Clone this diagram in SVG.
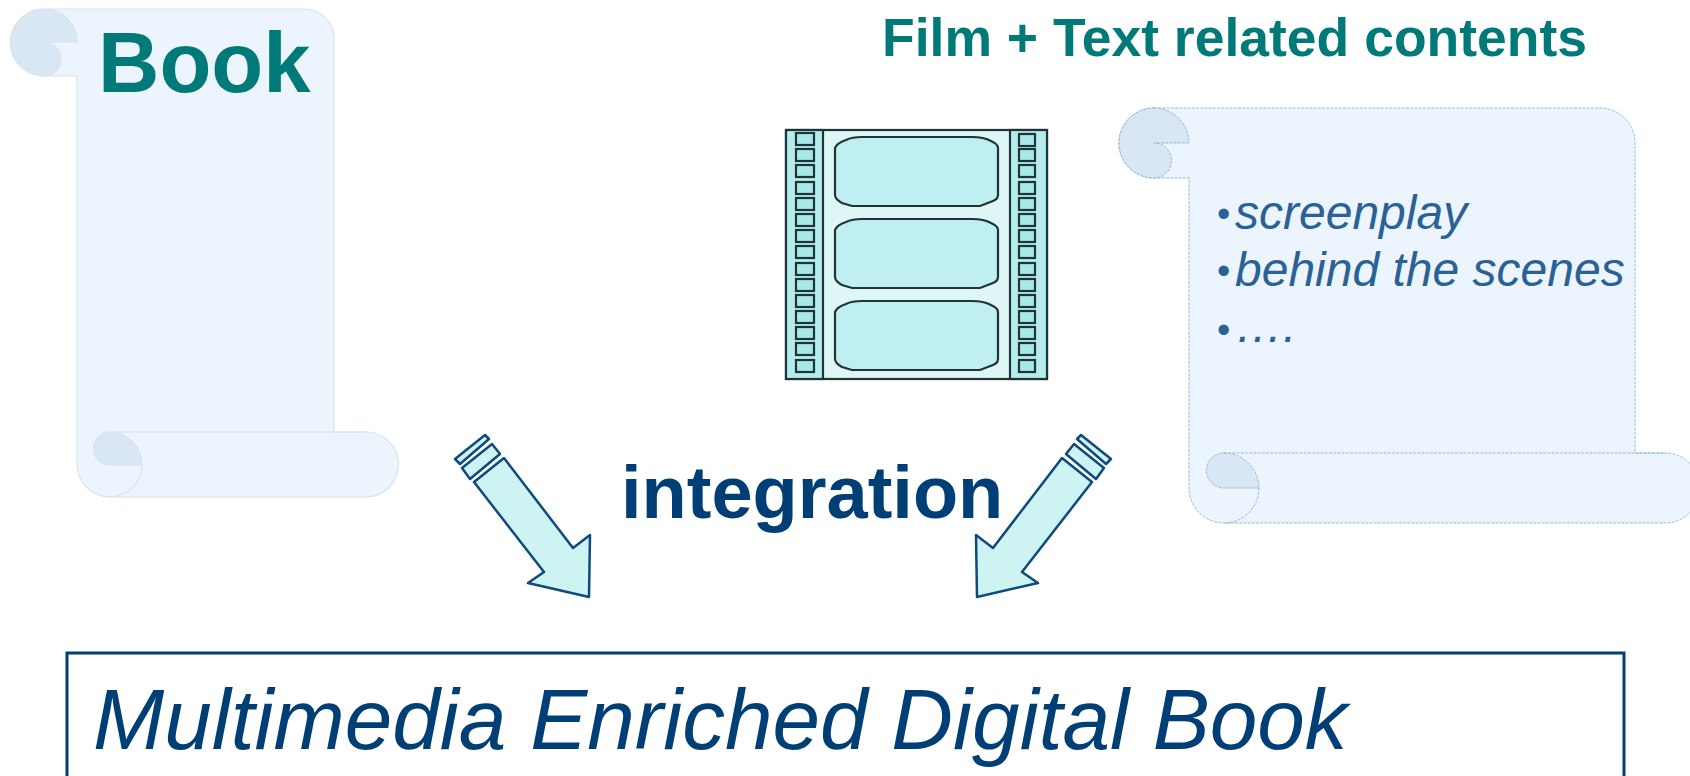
<svg xmlns="http://www.w3.org/2000/svg" width="1690" height="776" viewBox="0 0 1690 776">
<style>
text{font-family:"Liberation Sans",Arial,sans-serif}
.bold{font-weight:700}
.teal{fill:#007a78}
.navy{fill:#003f75}
.blue{fill:#2a6298}
.list{font-size:48px;font-style:italic}
.dot{font-size:38px;font-style:normal}
.page{fill:#ecf5fe}
.curl{fill:#d9e7f5}
.s1 path{stroke:#d9e3ed;stroke-width:1.2}
.s2 path{stroke:#8fb2d2;stroke-width:.9;stroke-dasharray:3 1.2}
.line{fill:none}
.film{stroke:#1f3436;stroke-width:2.200}
.strip{fill:#b6ecec}
.mid{fill:#dff6f6}
.frame{fill:#bfeff0}
.hole{fill:#a9e8e8}
.arr{fill:#cdf3f3;stroke:#0e4a7c;stroke-width:2.500;stroke-linejoin:round}
</style>
<defs>
<path id="frame-shape" d="M835,148Q837,143 846,140Q852,137 862,137H972Q984,137 991,141Q998,144 998,148V195Q998,199 993,201L980,206H852L842,203Q835,199 835,195Z"/>
<g id="arrow-shape">
<path d="M455,459L485,435L489,439L460,464Z"/>
<path d="M462,468L492,444L500,454L470,479Z"/>
<path d="M474,482L504,458L573,548L590,535L589,597L528,583L544,572Z"/>
</g>
</defs>
<rect width="1690" height="776" fill="#fff"/>
<g id="book-scroll" class="s1">
<path class="page" d="M44,9H304A30,30 0 0 1 334,39V432H366A32.500,32.500 0 0 1 366,497H110A33,33 0 0 1 77,465V76H44A33.500,33.500 0 0 1 44,9Z"/>
<path class="curl" d="M44,9A33,33 0 0 1 77,42H44A17,17 0 0 1 44,76A33.500,33.500 0 0 1 44,9Z"/>
<path class="curl" d="M110,432A32.500,33 0 0 1 142,465H110A16.500,16.500 0 0 1 110,432Z"/>
<path class="line" d="M142,465A32,32 0 0 1 110,497M110,432H366"/>
<text class="bold teal" x="98" y="92" font-size="85">Book</text>
</g>
<g id="title"><text class="bold teal" x="882" y="56" font-size="53.500">Film + Text related contents</text></g>
<g id="film">
<rect class="mid film" x="786" y="130" width="261" height="249"/>
<rect class="strip film" x="786" y="130" width="37" height="249"/>
<rect class="strip film" x="1010" y="130" width="37" height="249"/>
<use href="#frame-shape" class="frame film"/>
<use href="#frame-shape" class="frame film" y="82"/>
<use href="#frame-shape" class="frame film" y="164"/>
<g class="hole film">
<rect x="796" y="133" width="18" height="12"/><rect x="796" y="149" width="18" height="12"/><rect x="796" y="165" width="18" height="12"/><rect x="796" y="182" width="18" height="12"/><rect x="796" y="198" width="18" height="12"/><rect x="796" y="214" width="18" height="12"/><rect x="796" y="230" width="18" height="12"/><rect x="796" y="246" width="18" height="12"/><rect x="796" y="263" width="18" height="12"/><rect x="796" y="279" width="18" height="12"/><rect x="796" y="295" width="18" height="12"/><rect x="796" y="311" width="18" height="12"/><rect x="796" y="327" width="18" height="12"/><rect x="796" y="343" width="18" height="12"/><rect x="796" y="360" width="18" height="12"/>
<rect x="1019" y="134" width="16" height="12"/><rect x="1019" y="149" width="16" height="12"/><rect x="1019" y="165" width="16" height="12"/><rect x="1019" y="182" width="16" height="12"/><rect x="1019" y="198" width="16" height="12"/><rect x="1019" y="214" width="16" height="12"/><rect x="1019" y="230" width="16" height="12"/><rect x="1019" y="246" width="16" height="12"/><rect x="1019" y="263" width="16" height="12"/><rect x="1019" y="279" width="16" height="12"/><rect x="1019" y="295" width="16" height="12"/><rect x="1019" y="311" width="16" height="12"/><rect x="1019" y="327" width="16" height="12"/><rect x="1019" y="343" width="16" height="12"/><rect x="1019" y="360" width="16" height="12"/>
</g>
</g>
<g id="contents-scroll" class="s2">
<path class="page" d="M1154,108H1600A35,35 0 0 1 1635,143V453H1665A35,35 0 0 1 1665,523H1224A35,35 0 0 1 1189,488V178H1154A35,35 0 0 1 1154,108Z"/>
<path class="curl" d="M1154,108A35,35 0 0 1 1189,143H1154A17.500,17.500 0 0 1 1154,178A35,35 0 0 1 1154,108Z"/>
<path class="curl" d="M1224,453A35,35 0 0 1 1259,488H1224A17.500,17.500 0 0 1 1224,453Z"/>
<path class="line" d="M1259,488A35,35 0 0 1 1224,523M1224,453H1665"/>
<text class="blue list"><tspan class="dot" x="1217" y="227">•</tspan><tspan x="1235" y="229">screenplay</tspan></text>
<text class="blue list"><tspan class="dot" x="1217" y="284">•</tspan><tspan x="1235" y="286">behind the scenes</tspan></text>
<text class="blue list"><tspan class="dot" x="1217" y="343">•</tspan><tspan x="1235" y="342">….</tspan></text>
</g>
<g id="connectors">
<use id="arrow-left" href="#arrow-shape" class="arr"/>
<use id="arrow-right" href="#arrow-shape" class="arr" transform="translate(1566,0) scale(-1,1)"/>
</g>
<g id="integration"><text class="bold navy" x="621" y="518" font-size="74">integration</text></g>
<g id="result">
<path d="M67,780V653H1624V780" fill="#fff" stroke="#003f75" stroke-width="3"/>
<text class="navy" x="93" y="749" font-size="85.500" font-style="italic">Multimedia Enriched Digital Book</text>
</g>
</svg>
